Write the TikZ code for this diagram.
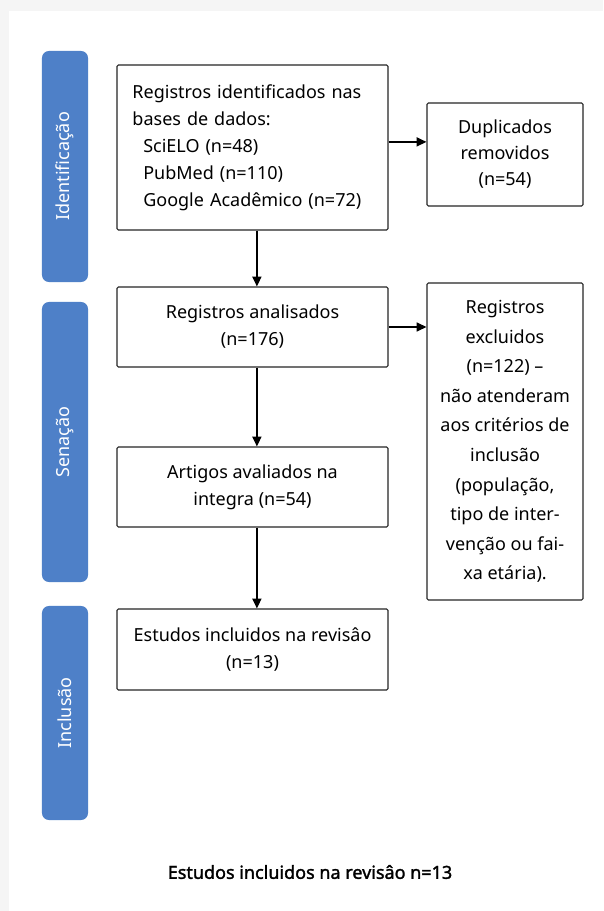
\documentclass[tikz,border=0pt]{standalone}
\usepackage{fontspec}
\setmainfont{Noto Sans}
\newfontfamily\totalfont{Noto Sans}[AutoFakeBold=1.6]
\usetikzlibrary{arrows.meta}
\definecolor{barblue}{RGB}{78,128,200}

\begin{document}
\begin{tikzpicture}[x=0.025cm, y=-0.025cm]
  \tikzstyle{box}=[draw=black!85, line width=0.8pt, rounded corners=1pt, minimum width=6.775cm, inner sep=0pt, font=\fontsize{12.8}{19.2}\selectfont]
  \tikzstyle{side}=[box, minimum width=3.9cm, align=center]
  \tikzstyle{stage}=[fill=barblue, rounded corners=5pt, minimum height=1.15cm, inner sep=0pt, text=white, rotate=90, font=\fontsize{12.8}{15}\selectfont]
  \tikzstyle{edge}=[-{Triangle[length=7pt, width=6.5pt]}, line width=0.9pt]

  % page
  \fill[black!4] (0,0) rectangle (603,911);
  \fill[white] (9,11) rectangle (603,911);

  % stages
  \node[stage, minimum width=5.775cm] (idb) at (65,166.5) {Identificação};
  \node[stage, minimum width=7cm]     (seb) at (65,442)   {Senação};
  \node[stage, minimum width=5.35cm]  (inb) at (65,713)   {Inclusão};

  % main column
  \node[box, minimum height=4.125cm, text width=6.0cm, align=left] (reg) at (252.5,147.5)
    {Registros identificados nas\\bases de dados:\\
     \hspace*{0.27cm}SciELO (n=48)\\
     \hspace*{0.27cm}PubMed (n=110)\\
     \hspace*{0.27cm}Google Acadêmico (n=72)};
  \node[box, minimum height=2cm, align=center]     (ana) at (252.5,327)   {Registros analisados\\(n=176)};
  \node[box, minimum height=2cm, align=center]     (art) at (252.5,487)   {Artigos avaliados na\\integra (n=54)};
  \node[box, minimum height=2.025cm, align=center] (inc) at (252.5,649.5) {Estudos incluidos na revisâo\\(n=13)};

  % side column
  \node[side, minimum height=2.575cm, font=\fontsize{12.8}{18.5}\selectfont] (dup) at (505,154.5) {Duplicados\\removidos\\(n=54)};
  \node[side, minimum height=7.925cm, font=\fontsize{12.8}{21}\selectfont] (exc) at (505,441.5)
    {Registros\\excluidos\\(n=122) –\\não atenderam\\aos critérios de\\inclusão\\(população,\\tipo de inter-\\venção ou fai-\\xa etária).};

  \node[font=\totalfont\fontsize{12.8}{15}\selectfont\bfseries] (tot) at (310,872) {Estudos incluidos na revisâo n=13};

  \coordinate (r1) at ([yshift=0.14cm]reg.east);
  \path[edge] (r1) edge (r1 -| dup.west);
  \path[edge] (ana.east) edge (ana.east -| exc.west);

  \path[edge] ([xshift=0.11cm]reg.south) edge ([xshift=0.11cm]ana.north);
  \path[edge] ([xshift=0.11cm]ana.south) edge ([xshift=0.11cm]art.north);
  \path[edge] ([xshift=0.11cm]art.south) edge ([xshift=0.11cm]inc.north);
\end{tikzpicture}
\end{document}
